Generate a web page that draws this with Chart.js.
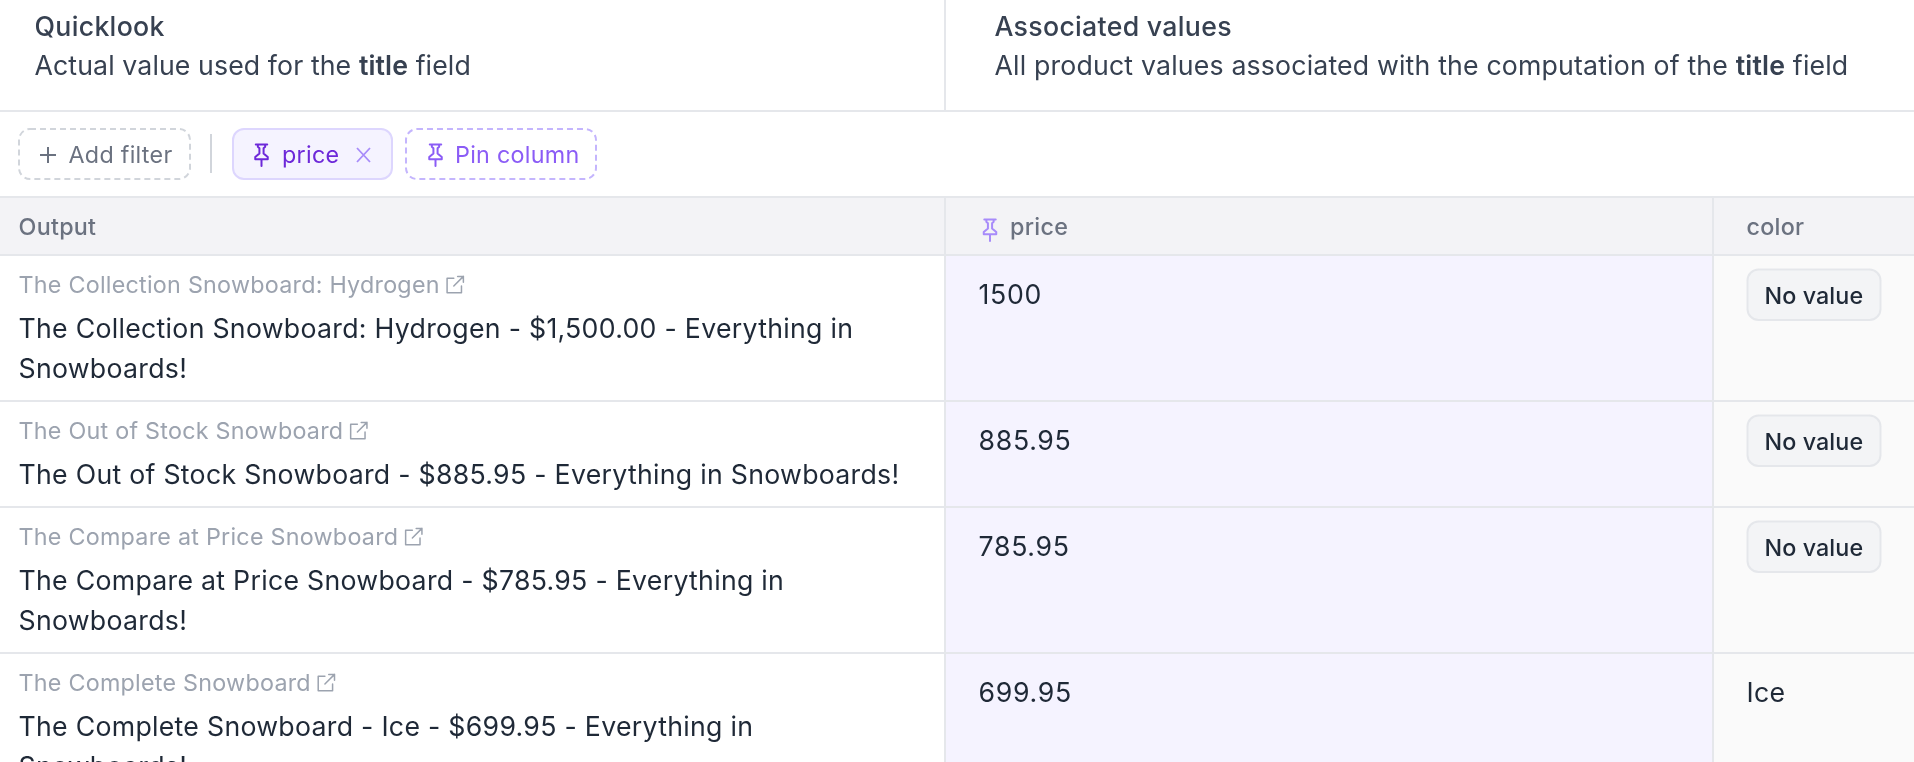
<!DOCTYPE html>
<html>
<head>
<meta charset="utf-8">
<title>Quicklook</title>
<script src="https://cdn.jsdelivr.net/npm/chart.js@4"></script>
<style>
    html, body { margin: 0; padding: 0; background: #fff; overflow: hidden; }
    #wrap { width: 1914px; height: 762px; position: relative; }
</style>
</head>
<body>
<div id="wrap"><canvas id="tableChart"></canvas></div>
<script>
const productTitles = ['The Collection Snowboard: Hydrogen', 'The Out of Stock Snowboard', 'The Compare at Price Snowboard', 'The Complete Snowboard'];
const outputLines = [
    ['The Collection Snowboard: Hydrogen - $1,500.00 - Everything in', 'Snowboards!'],
    ['The Out of Stock Snowboard - $885.95 - Everything in Snowboards!'],
    ['The Compare at Price Snowboard - $785.95 - Everything in', 'Snowboards!'],
    ['The Complete Snowboard - Ice - $699.95 - Everything in', 'Snowboards!']
];
const prices = [1500, 885.95, 785.95, 699.95];
const colorValues = [null, null, null, 'Ice'];
const columnHeaders = ['Output', 'price', 'color'];

const FONT = 'Inter, "Noto Sans", sans-serif';
const W = 1914, H = 762;
const COL_PRICE = 945, COL_COLOR = 1713;
const HEAD_TOP = 197, HEAD_BOTTOM = 255;
const LINE = '#e5e7eb';

// row height follows the number of wrapped output lines
const rowTops = [];
outputLines.reduce((top, lines) => { rowTops.push(top); return top + 66 + 40 * lines.length; }, HEAD_BOTTOM);
const rowEnds = rowTops.map((t, i) => t + 66 + 40 * outputLines[i].length);

const PIN = new Path2D('M6.5 2.5h11M8.5 2.5v2l1.5 1.5v5L6 14.5v2h12v-2l-4-3.5V6l1.5-1.5v-2M12 16.5V23');
const LINK = new Path2D('M11 5H4v15h15v-7M11 13L21 3M15 3h6v6');

function text(ctx, str, x, y, size, color, weight = 400, spacing = 0.28) {
    ctx.font = `${weight} ${size}px ${FONT}`;
    ctx.letterSpacing = spacing + 'px';
    ctx.fillStyle = color;
    ctx.textAlign = 'left';
    ctx.textBaseline = 'middle';
    ctx.fillText(str, x, y);
    return ctx.measureText(str).width;
}

function icon(ctx, path, x, y, size, color, width = 2) {
    ctx.save();
    ctx.translate(x, y);
    ctx.scale(size / 24, size / 24);
    ctx.strokeStyle = color;
    ctx.lineWidth = width * 24 / size;
    ctx.lineJoin = 'round';
    ctx.lineCap = 'round';
    ctx.stroke(path);
    ctx.restore();
}

function box(ctx, x0, y0, x1, y1, fill, stroke, dash) {
    ctx.save();
    ctx.beginPath();
    ctx.roundRect(x0, y0, x1 - x0, y1 - y0, 11);
    if (fill) { ctx.fillStyle = fill; ctx.fill(); }
    ctx.strokeStyle = stroke;
    ctx.lineWidth = 2;
    if (dash) ctx.setLineDash(dash);
    ctx.stroke();
    ctx.restore();
}

const tablePlugin = {
    id: 'tablePlugin',
    afterDatasetsDraw(chart) {
        const ctx = chart.ctx;
        const sx = v => chart.scales.x.getPixelForValue(v);
        const sy = v => chart.scales.y.getPixelForValue(v);
        const hLine = y => { ctx.fillStyle = LINE; ctx.fillRect(sx(0), sy(y) - 1, sx(W), 2); };
        const vLine = (x, y0, y1) => { ctx.fillStyle = LINE; ctx.fillRect(sx(x) - 1, sy(y0), 2, sy(y1) - sy(y0)); };

        // cell backgrounds
        ctx.fillStyle = '#f3f3f6';
        ctx.fillRect(sx(0), sy(HEAD_TOP), sx(W), sy(HEAD_BOTTOM) - sy(HEAD_TOP));
        ctx.fillStyle = '#f5f3ff';
        ctx.fillRect(sx(COL_PRICE), sy(HEAD_BOTTOM), sx(COL_COLOR) - sx(COL_PRICE), sy(H) - sy(HEAD_BOTTOM));
        ctx.fillStyle = '#fafafa';
        ctx.fillRect(sx(COL_COLOR), sy(HEAD_BOTTOM), sx(W) - sx(COL_COLOR), sy(H) - sy(HEAD_BOTTOM));

        // grid
        [111, HEAD_TOP, HEAD_BOTTOM, ...rowEnds].forEach(hLine);
        vLine(COL_PRICE, 0, 111);
        vLine(COL_PRICE, HEAD_TOP, H);
        vLine(COL_COLOR, HEAD_TOP, H);

        // panel headings
        const SUB = 26.7;
        text(ctx, 'Quicklook', 34.5, 28, SUB, '#374151', 500, 0.3);
        let x = 34.5;
        x += text(ctx, 'Actual value used for the ', x, 67, SUB, '#374151', 400, 0.1);
        x += text(ctx, 'title', x, 67, SUB, '#374151', 600, 0.1);
        text(ctx, ' field', x, 67, SUB, '#374151', 400, 0.1);
        text(ctx, 'Associated values', 994.5, 28, SUB, '#374151', 500, 0.3);
        x = 994.5;
        x += text(ctx, 'All product values associated with the computation of the ', x, 67, SUB, '#374151', 400, 0.17);
        x += text(ctx, 'title', x, 67, SUB, '#374151', 600, 0.17);
        text(ctx, ' field', x, 67, SUB, '#374151', 400, 0.17);

        // toolbar
        box(ctx, 19, 129, 190, 179, null, '#d1d5db', [6, 4]);
        ctx.strokeStyle = '#6b7280';
        ctx.lineWidth = 2;
        ctx.beginPath();
        ctx.moveTo(40, 155); ctx.lineTo(56, 155);
        ctx.moveTo(48, 147); ctx.lineTo(48, 163);
        ctx.stroke();
        text(ctx, 'Add filter', 68.5, 155.5, 23.3, '#6b7280');
        ctx.fillStyle = '#d1d5db';
        ctx.fillRect(210, 134, 2, 39);
        box(ctx, 233, 129, 392, 179, '#f5f3ff', '#ddd6fe');
        icon(ctx, PIN, 249, 142, 25, '#6d28d9');
        text(ctx, 'price', 282, 155.5, 23.3, '#6d28d9');
        ctx.strokeStyle = '#a78bfa';
        ctx.lineWidth = 1.8;
        ctx.beginPath();
        ctx.moveTo(357, 148); ctx.lineTo(370, 162);
        ctx.moveTo(370, 148); ctx.lineTo(357, 162);
        ctx.stroke();
        box(ctx, 406, 129, 596, 179, null, '#c4b5fd', [6, 4]);
        icon(ctx, PIN, 423, 142, 25, '#8b5cf6');
        text(ctx, 'Pin column', 455, 155.5, 23.3, '#8b5cf6');

        // column headers
        text(ctx, columnHeaders[0], 18.5, 228, 23.3, '#6b7280', 500);
        icon(ctx, PIN, 977.5, 217, 25, '#a78bfa');
        text(ctx, columnHeaders[1], 1010, 228, 23.3, '#6b7280', 500);
        text(ctx, columnHeaders[2], 1746.5, 228, 23.3, '#6b7280', 500);

        // cells, placed from the dataset points
        chart.getDatasetMeta(0).data.forEach((pt, i) => {
            const w = text(ctx, productTitles[i], pt.x, pt.y + 31, 23.3, '#9ca3af', 400, 0.25);
            icon(ctx, LINK, pt.x + w + 3.5, pt.y + 18.5, 23, '#9ca3af', 1.5);
            outputLines[i].forEach((line, n) => text(ctx, line, pt.x, pt.y + 75 + 40 * n, 26.7, '#1f2937'));
        });
        chart.getDatasetMeta(1).data.forEach((pt, i) => {
            text(ctx, String(prices[i]), pt.x, pt.y + 41, 26.7, '#1f2937', 400, 0.7);
        });
        chart.getDatasetMeta(2).data.forEach((pt, i) => {
            if (colorValues[i]) {
                text(ctx, colorValues[i], pt.x, pt.y + 41, 26.7, '#1f2937');
            } else {
                box(ctx, pt.x + 1, pt.y + 14.5, pt.x + 134, pt.y + 65, '#f3f4f6', LINE);
                text(ctx, 'No value', pt.x + 18, pt.y + 42, 23.3, '#1f2937', 500, 0.1);
            }
        });
    }
};

new Chart(document.getElementById('tableChart').getContext('2d'), {
    type: 'scatter',
    data: {
        datasets: [
            { label: 'Output', data: rowTops.map(y => ({ x: 18.5, y })), pointRadius: 0 },
            { label: 'price', data: rowTops.map(y => ({ x: 978.5, y })), pointRadius: 0 },
            { label: 'color', data: rowTops.map(y => ({ x: 1746.5, y })), pointRadius: 0 }
        ]
    },
    options: {
        responsive: true,
        maintainAspectRatio: false,
        animation: false,
        devicePixelRatio: 1,
        layout: { padding: 0 },
        plugins: { legend: { display: false }, tooltip: { enabled: false } },
        scales: {
            x: { type: 'linear', display: false, min: 0, max: W },
            y: { type: 'linear', display: false, min: 0, max: H, reverse: true }
        }
    },
    plugins: [tablePlugin]
});
</script>
</body>
</html>
